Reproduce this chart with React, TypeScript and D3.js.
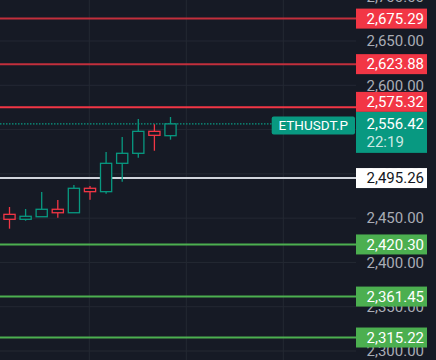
import React from "react";
import * as d3 from "d3";

const opens = [2454.3, 2448.7, 2451.6, 2460.0, 2456.1, 2483.7, 2479.9, 2511.9, 2523.2, 2548.0, 2543.1];
const highs = [2462.6, 2460.3, 2479.6, 2470.5, 2487.4, 2486.3, 2524.7, 2541.6, 2561.9, 2556.0, 2564.2];
const lows = [2438.1, 2447.1, 2451.6, 2450.5, 2456.1, 2470.8, 2477.6, 2491.1, 2518.2, 2526.1, 2538.6];
const closes = [2448.7, 2452.1, 2460.0, 2456.1, 2483.7, 2479.9, 2511.9, 2523.2, 2548.0, 2543.5, 2556.42];

const resistanceLevels = [2675.29, 2623.88, 2575.32];
const pivotLevel = 2495.26;
const supportLevels = [2420.3, 2361.45, 2315.22];
const tickValues = [2300, 2350, 2400, 2450, 2500, 2550, 2600, 2650, 2700];
const lastPrice = 2556.42;
const countdown = "22:19";
const symbol = "ETHUSDT.P";

const W = 436;
const H = 360;
const AXIS_X = 356;
const BG = "#161a25";
const GRID = "#242833";
const UP = "#089981";
const DOWN = "#f23645";
const FONT = "Roboto, 'Noto Sans', sans-serif";

const fmt = d3.format(",.2f");

export default function App() {
  const y = d3.scaleLinear().domain([2289.84, 2696.29]).range([H, 0]);
  const x = d3.scaleLinear().domain([0, closes.length - 1]).range([9.5, 170.5]);
  const vGrid = d3.range(0, 3).map((i) => 89.3 + i * 97);

  const py = y(lastPrice);
  const tealTop = py - 12;
  const tealBottom = py + 29;

  const placeLabel = (v: number) => {
    const cy = y(v);
    let top = cy - 10;
    let bottom = cy + 10;
    if (bottom > tealTop && top < tealBottom) {
      if (cy < py) {
        bottom = tealTop;
        top = bottom - 20;
      } else {
        top = tealBottom;
        bottom = top + 20;
      }
    }
    return { top, mid: (top + bottom) / 2 };
  };

  const levelLabel = (v: number, fill: string, textFill: string, key: string) => {
    const p = placeLabel(v);
    return (
      <g key={key}>
        <rect x={AXIS_X} y={p.top} width={71} height={20} fill={fill} />
        <text x={366.5} y={p.mid + 5.3} fill={textFill} fontSize={15} fontFamily={FONT}>
          {fmt(v)}
        </text>
      </g>
    );
  };

  return (
    <svg
      width={W}
      height={H}
      style={{ position: "absolute", left: 0, top: 0, display: "block" }}
    >
      <rect x={0} y={0} width={W} height={H} fill={BG} />
      {/* grid */}
      {tickValues.map((t) => (
        <line key={"h" + t} x1={0} x2={AXIS_X} y1={y(t)} y2={y(t)} stroke={GRID} strokeWidth={1} />
      ))}
      {vGrid.map((gx) => (
        <line key={"v" + gx} x1={gx} x2={gx} y1={0} y2={H} stroke={GRID} strokeWidth={1} />
      ))}
      {/* tick labels */}
      {tickValues.map((t) => (
        <text key={"t" + t} x={366.5} y={y(t) + 5.3} fill="#a9acb5" fontSize={15} fontFamily={FONT}>
          {fmt(t)}
        </text>
      ))}
      {/* level lines */}
      {resistanceLevels.map((v, i) => (
        <line key={"r" + v} x1={0} x2={AXIS_X} y1={y(v)} y2={y(v)} stroke={i < 2 ? "#c22f3c" : DOWN} strokeWidth={2} />
      ))}
      <line x1={0} x2={AXIS_X} y1={y(pivotLevel)} y2={y(pivotLevel)} stroke="#d1d4dc" strokeWidth={2} />
      {supportLevels.map((v) => (
        <line key={"s" + v} x1={0} x2={AXIS_X} y1={y(v)} y2={y(v)} stroke="#4caf50" strokeWidth={2} />
      ))}
      {/* last price dotted line */}
      <line x1={0} x2={272} y1={py} y2={py} stroke={UP} strokeWidth={1.3} strokeDasharray="1.5,1.5" />
      {/* candles */}
      {closes.map((c, i) => {
        const o = opens[i];
        const up = c >= o;
        const col = up ? UP : DOWN;
        const bt = y(Math.max(o, c));
        const bb = y(Math.min(o, c));
        const cx = x(i);
        return (
          <g key={"c" + i}>
            <line x1={cx} x2={cx} y1={y(highs[i])} y2={bt} stroke={col} strokeWidth={1.3} />
            <line x1={cx} x2={cx} y1={bb} y2={y(lows[i])} stroke={col} strokeWidth={1.3} />
            <rect x={cx - 5.6} y={bt} width={11.2} height={Math.max(bb - bt, 1)} fill={BG} stroke={col} strokeWidth={1.3} />
          </g>
        );
      })}
      {/* level labels */}
      {resistanceLevels.map((v) => levelLabel(v, DOWN, "#ffffff", "rl" + v))}
      {levelLabel(pivotLevel, "#ffffff", "#131722", "pl")}
      {supportLevels.map((v) => levelLabel(v, "#4caf50", "#ffffff", "sl" + v))}
      {/* symbol label */}
      <rect x={271.7} y={py - 7.5} width={83.3} height={18} rx={2} fill={UP} />
      <text x={313.3} y={py + 6.5} textAnchor="middle" fill="#ffffff" fontSize={13.5} fontFamily={FONT}>
        {symbol}
      </text>
      {/* last price label */}
      <rect x={AXIS_X} y={tealTop} width={71} height={tealBottom - tealTop} fill={UP} />
      <text x={366.5} y={py + 5.3} fill="#ffffff" fontSize={15} fontFamily={FONT}>
        {fmt(lastPrice)}
      </text>
      <text x={366.5} y={py + 23} fill="#ffffff" fillOpacity={0.8} fontSize={15} fontFamily={FONT}>
        {countdown}
      </text>
    </svg>
  );
}
